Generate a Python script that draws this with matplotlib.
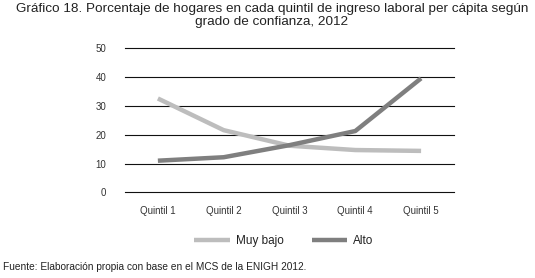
import matplotlib.pyplot as plt

quintiles = ['Quintil 1', 'Quintil 2', 'Quintil 3', 'Quintil 4', 'Quintil 5']
muy_bajo = [32.6, 21.6, 16.2, 14.7, 14.4]
alto = [11.0, 12.2, 16.4, 21.3, 39.6]
yticks = [0, 10, 20, 30, 40, 50]

plt.rcParams['font.family'] = ['Liberation Sans', 'DejaVu Sans']

fig = plt.figure(figsize=(5.35, 2.78), dpi=100)
ax = fig.add_axes([0.2336, 0.308, 0.615, 0.518])

x = range(len(quintiles))
ax.plot(x, muy_bajo, color='#bdbdbd', lw=3.2, solid_capstyle='butt', label='Muy bajo')
ax.plot(x, alto, color='#7f7f7f', lw=3.2, solid_capstyle='butt', label='Alto')

ax.set_xlim(-0.5, 4.5)
ax.set_ylim(0, 50)
ax.set_yticks(yticks)
ax.set_xticks(list(x))
ax.set_xticklabels(quintiles)
ax.yaxis.grid(True, color='#111111', lw=0.8)
for gl in ax.get_ygridlines():
    gl.set_clip_on(False)
ax.set_axisbelow(True)
for s in ax.spines.values():
    s.set_visible(False)
ax.tick_params(length=0, labelsize=7, colors='#333333')
ax.tick_params(axis='y', pad=13.5)
ax.tick_params(axis='x', pad=10)

fig.text(0.508, 0.988, 'Gráfico 18. Porcentaje de hogares en cada quintil de ingreso laboral per cápita según\ngrado de confianza, 2012',
         ha='center', va='top', fontsize=9.7, color='#222222', linespacing=1.05)

fig.legend(loc='center', bbox_to_anchor=(0.531, 0.133), ncol=2, frameon=False, fontsize=8.5,
           handlelength=3.0, columnspacing=2.4, handletextpad=0.5, labelcolor='#222222')

fig.text(0.005, 0.04, 'Fuente: Elaboración propia con base en el MCS de la ENIGH 2012.',
         fontsize=7.3, color='#222222', ha='left', va='center')

fig.savefig('out.png', dpi=100)
